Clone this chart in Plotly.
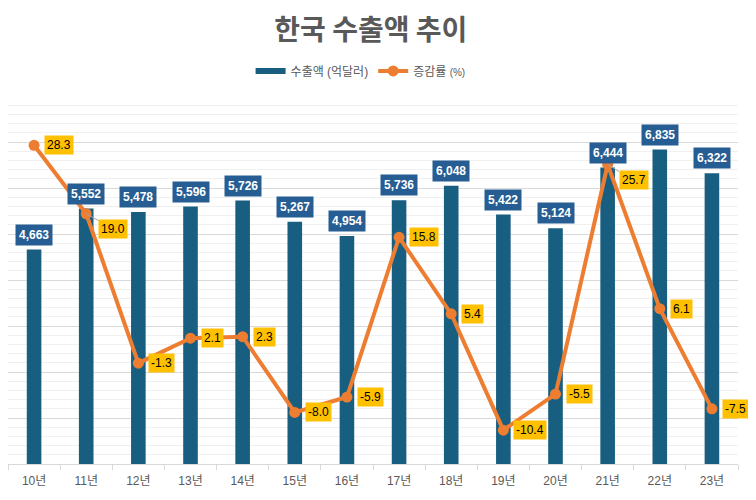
import plotly.graph_objects as go

categories = ["10년", "11년", "12년", "13년", "14년", "15년", "16년", "17년", "18년", "19년", "20년", "21년", "22년", "23년"]
exports = [4663, 5552, 5478, 5596, 5726, 5267, 4954, 5736, 6048, 5422, 5124, 6444, 6835, 6322]
growth = [28.3, 19.0, -1.3, 2.1, 2.3, -8.0, -5.9, 15.8, 5.4, -10.4, -5.5, 25.7, 6.1, -7.5]

BAR = "#175E80"
LABEL_BLUE = "#265E93"
ORANGE = "#ED7D31"
YELLOW = "#FFC000"
GRAY_TEXT = "#595959"
FONT = "Liberation Sans, Noto Sans CJK KR, sans-serif"

fig = go.Figure()
fig.add_trace(go.Bar(
    x=categories, y=exports, name="수출액 (억달러)", showlegend=False,
    marker=dict(color=BAR, line=dict(width=0)), width=0.28,
    hoverinfo="skip",
))
# legend entry for bars drawn as a wide flat swatch
fig.add_trace(go.Scatter(
    x=[None], y=[None], name="수출액 (억달러)", mode="lines",
    line=dict(color=BAR, width=6), hoverinfo="skip",
))
fig.add_trace(go.Scatter(
    x=categories, y=growth, name="증감률 <span style='font-size:10px'>(%)</span>", yaxis="y2",
    mode="lines+markers",
    line=dict(color=ORANGE, width=4),
    marker=dict(color=ORANGE, size=11),
    hoverinfo="skip",
))

annotations = []
for c, v in zip(categories, exports):
    annotations.append(dict(
        x=c, y=v, xref="x", yref="y", text=f"<b>{v:,}</b>",
        showarrow=False, yanchor="bottom", yshift=4,
        font=dict(family=FONT, size=12, color="white"),
        bgcolor=LABEL_BLUE, borderpad=3,
    ))

displaced = {"11년": (27, 15), "21년": (26, 16)}
for c, v in zip(categories, growth):
    if c in displaced:
        ax, ay = displaced[c]
        annotations.append(dict(
            x=c, y=v, xref="x", yref="y2", text=f"{v:.1f}",
            showarrow=True, arrowhead=0, arrowwidth=1, arrowcolor="#a6a6a6",
            ax=ax, ay=ay, standoff=0,
            font=dict(family=FONT, size=12, color="black"),
            bgcolor=YELLOW, borderpad=2,
        ))
    else:
        annotations.append(dict(
            x=c, y=v, xref="x", yref="y2", text=f"{v:.1f}",
            showarrow=False, xanchor="left", xshift=10,
            font=dict(family=FONT, size=12, color="black"),
            bgcolor=YELLOW, borderpad=2,
        ))

fig.update_layout(
    width=756, height=500,
    margin=dict(l=0, r=26, t=88, b=44, autoexpand=False),
    paper_bgcolor="white", plot_bgcolor="white",
    font=dict(family=FONT, color=GRAY_TEXT),
    title=dict(text="<b>한국 수출액 추이</b>", x=0.48, xanchor="center", y=0.956, yanchor="middle",
               yref="container", automargin=False,
               font=dict(family="Noto Sans CJK KR, sans-serif", size=28, color=GRAY_TEXT)),
    legend=dict(orientation="h", x=0.483, xanchor="center", y=1.068, yanchor="middle",
                font=dict(family=FONT, size=12, color=GRAY_TEXT), itemwidth=30,
                traceorder="normal"),
    showlegend=True,
    xaxis=dict(
        range=[-0.5, 13.5], automargin=False,
        showgrid=False, showline=True, linecolor="#d9d9d9", linewidth=1,
        ticks="outside", tickson="boundaries", ticklen=5, tickcolor="#d9d9d9",
        ticklabelstandoff=6,
        tickfont=dict(family=FONT, size=12, color=GRAY_TEXT), fixedrange=True,
    ),
    yaxis=dict(
        range=[0, 8000], dtick=1000, showgrid=True, gridcolor="#d9d9d9", gridwidth=1,
        showticklabels=False, zeroline=False, showline=False, automargin=False,
        minor=dict(dtick=200, showgrid=True, gridcolor="#f0f0f0", gridwidth=1),
    ),
    yaxis2=dict(
        range=[-15, 35], overlaying="y", side="right", showgrid=False, automargin=False,
        showticklabels=False, zeroline=False, showline=False,
    ),
    annotations=annotations,
)

fig.write_html("out.html")
